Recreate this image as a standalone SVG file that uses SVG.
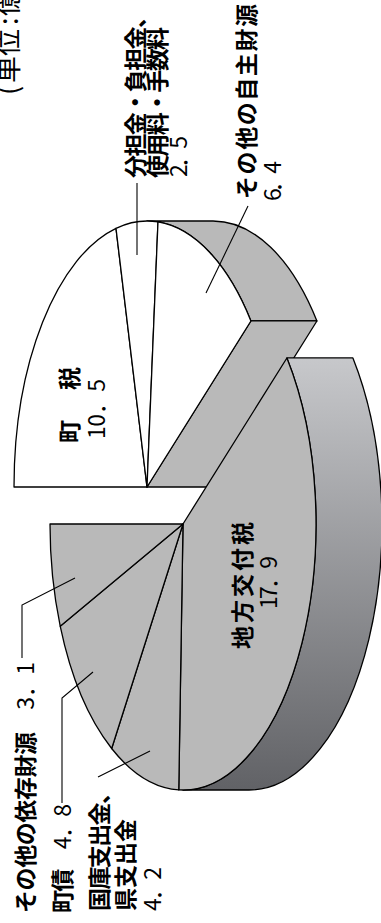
<svg xmlns="http://www.w3.org/2000/svg" width="381" height="923" viewBox="0 0 381 923">
<defs>
<linearGradient id="sideGrad" gradientUnits="userSpaceOnUse" x1="0" y1="358" x2="0" y2="790">
<stop offset="0" stop-color="#c7c8cb"/>
<stop offset="1" stop-color="#616266"/>
</linearGradient>
</defs>
<style>
.face{stroke:#000;stroke-width:1.3;stroke-linejoin:round}
.w{fill:#fff}
.g{fill:#b9b9b9}
.side{fill:url(#sideGrad)}
.lbl{font-family:"Noto Sans CJK JP","Noto Sans CJK SC",sans-serif;font-weight:bold;font-size:23px;fill:#000}
.num{font-family:"Noto Sans CJK JP","Noto Sans CJK SC",sans-serif;font-weight:normal;font-size:23px;fill:#000}
.unit{font-family:"Noto Sans CJK JP","Noto Sans CJK SC",sans-serif;font-weight:normal;font-size:27px;fill:#000}
.lead{fill:none;stroke:#000;stroke-width:1.1}
</style>
<rect width="381" height="923" fill="#fff"/>

<g id="jishu-side">
<path class="face g" d="M147,221 A133,266 0 0,1 250.91,320.97 L316.91,320.97 A133,266 0 0,0 213,221 Z"/>
<path class="face g" d="M147,487 L250.91,320.97 L316.91,320.97 L213,487 Z"/>
</g>
<g id="chozei">
<path class="face w" d="M147,487 L14,487 A133,266 0 0,1 116,228.34 Z"/>
<text class="lbl" transform="translate(78,443) rotate(-90)" textLength="76" lengthAdjust="spacing">町　税</text>
<text class="num" transform="translate(105,439) rotate(-90)" textLength="60" lengthAdjust="spacing">10．5</text>
</g>
<g id="buntankin">
<path class="face w" d="M147,487 L116,228.34 A133,266 0 0,1 157.98,221.91 Z"/>
<text class="lbl" transform="translate(143.5,178) rotate(-90)" textLength="173" lengthAdjust="spacing">分担金・負担金、</text>
<text class="lbl" transform="translate(166,178) rotate(-90)" textLength="151" lengthAdjust="spacing">使用料・手数料</text>
<text class="num" transform="translate(186.5,177) rotate(-90)" textLength="41" lengthAdjust="spacing">2．5</text>
</g>
<g id="sonota-jishu">
<path class="face w" d="M147,487 L157.98,221.91 A133,266 0 0,1 250.91,320.97 Z"/>
<text class="lbl" transform="translate(255,199) rotate(-90)" textLength="195" lengthAdjust="spacing">その他の自主財源</text>
<text class="num" transform="translate(281,201) rotate(-90)" textLength="40" lengthAdjust="spacing">6．4</text>
</g>

<g id="izon-side">
<path class="face side" d="M286.91,357.97 A133,266 0 0,1 183,790 L249,790 A133,266 0 0,0 352.91,357.97 Z"/>
</g>
<g id="chiho-kofuzei">
<path class="face g" d="M183,524 L286.91,357.97 A133,266 0 0,1 178.77,789.87 Z"/>
<text class="lbl" transform="translate(250.5,649) rotate(-90)" textLength="127" lengthAdjust="spacing">地方交付税</text>
<text class="num" transform="translate(277,609) rotate(-90)" textLength="53" lengthAdjust="spacing">17．9</text>
</g>
<g id="kokko-shishutsukin">
<path class="face g" d="M183,524 L178.77,789.87 A133,266 0 0,1 111.67,748.51 Z"/>
<text class="lbl" transform="translate(108,911) rotate(-90)" textLength="130" lengthAdjust="spacing">国庫支出金、</text>
<text class="lbl" transform="translate(133.5,911) rotate(-90)" textLength="92" lengthAdjust="spacing">県支出金</text>
<text class="num" transform="translate(161,911) rotate(-90)" textLength="44" lengthAdjust="spacing">4．2</text>
</g>
<g id="chosai">
<path class="face g" d="M183,524 L111.67,748.51 A133,266 0 0,1 60.2,626.18 Z"/>
<text class="lbl" transform="translate(70.5,913) rotate(-90)" textLength="109" lengthAdjust="spacing">町債　<tspan class="num">4．8</tspan></text>
</g>
<g id="sonota-izon">
<path class="face g" d="M183,524 L60.2,626.18 A133,266 0 0,1 50,524 Z"/>
<text class="lbl" transform="translate(33.5,913) rotate(-90)" textLength="251" lengthAdjust="spacing">その他の依存財源　<tspan class="num">3．1</tspan></text>
</g>

<g id="connectors">
<path class="lead" d="M137,183 V255"/>
<path class="lead" d="M248,206 L206,293"/>
<path class="lead" d="M22,658 V605 L75,578"/>
<path class="lead" d="M62,803 V698 L93,672"/>
<path class="lead" d="M98,777 L150,751"/>
</g>

<g id="unit">
<text class="unit" transform="translate(18,97) rotate(-90)" x="2 14 41 72 81 108 135">(単位:億円)</text>
</g>
</svg>
